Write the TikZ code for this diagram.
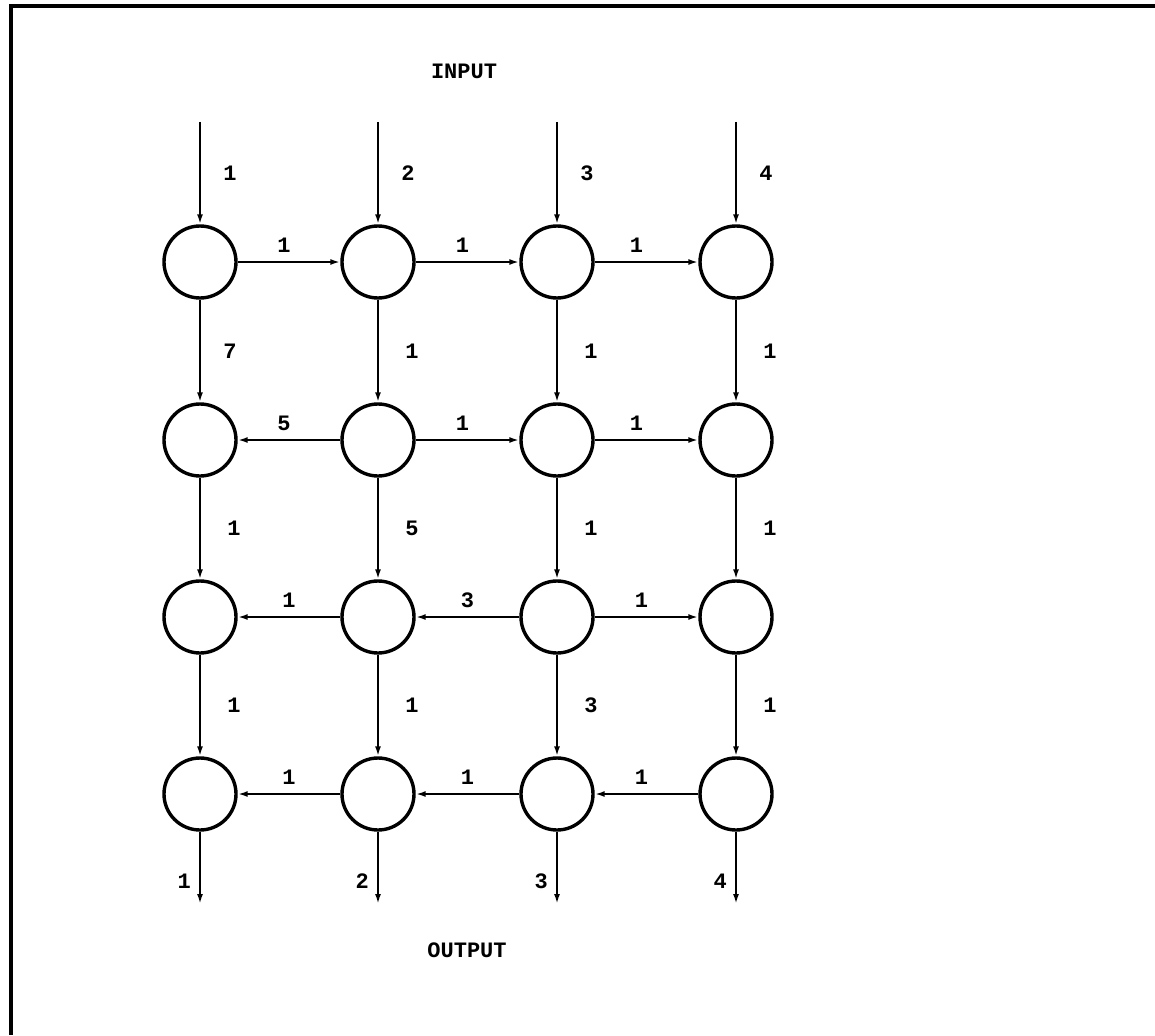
\documentclass[tikz,border=0pt]{standalone}
\usepackage{fontspec}
\setmonofont{Liberation Mono}
\usetikzlibrary{arrows.meta}
\begin{document}
\begin{tikzpicture}[x=1pt,y=-1pt,
  font=\fontsize{22}{26}\selectfont\ttfamily\bfseries,
  cell/.style={circle,draw,line width=3.4pt,minimum size=72pt,inner sep=0pt},
  flow/.style={line width=2.6pt,-{Latex[length=10pt,width=6pt]}},
  lab/.style={inner sep=2pt}]
\useasboundingbox (0,0) rectangle (1155,1035);
% frame (top and left sides)
\draw[line width=4pt] (1155,6) -- (11,6) -- (11,1035);
% titles
\node (tin) at (464,71) {INPUT};
\node (tout) at (467,950) {OUTPUT};
% cells
\foreach \r/\y in {1/262,2/440,3/617,4/794}{
  \foreach \c/\x in {1/200,2/378,3/557,4/736}{
    \node[cell] (n\r\c) at (\x,\y) {};
  }
}
% input / output coordinates
\foreach \c/\x in {1/200,2/378,3/557,4/736}{
  \coordinate (in\c) at (\x,122);
  \coordinate (out\c) at (\x,904);
}
% inputs and outputs
\foreach \c in {1,2,3,4}{
  \draw[flow] (in\c) -- node[lab,right=20pt] {\c} (n1\c);
  \draw[flow] (n4\c) -- node[lab,pos=0.68,left=6pt] {\c} (out\c);
}
% row 1 horizontals
\draw[flow] (n11) -- node[lab,above=6pt,xshift=-5pt] {1} (n12);
\draw[flow] (n12) -- node[lab,above=6pt,xshift=-5pt] {1} (n13);
\draw[flow] (n13) -- node[lab,above=6pt,xshift=-10pt] {1} (n14);
% row 1 -> row 2
\draw[flow] (n11) -- node[lab,right=20pt] {7} (n21);
\draw[flow] (n12) -- node[lab,right=24pt] {1} (n22);
\draw[flow] (n13) -- node[lab,right=24pt] {1} (n23);
\draw[flow] (n14) -- node[lab,right=24pt] {1} (n24);
% row 2 horizontals
\draw[flow] (n22) -- node[lab,above=6pt,xshift=-5pt] {5} (n21);
\draw[flow] (n22) -- node[lab,above=6pt,xshift=-5pt] {1} (n23);
\draw[flow] (n23) -- node[lab,above=6pt,xshift=-10pt] {1} (n24);
% row 2 -> row 3
\draw[flow] (n21) -- node[lab,right=24pt] {1} (n31);
\draw[flow] (n22) -- node[lab,right=24pt] {5} (n32);
\draw[flow] (n23) -- node[lab,right=24pt] {1} (n33);
\draw[flow] (n24) -- node[lab,right=24pt] {1} (n34);
% row 3 horizontals
\draw[flow] (n32) -- node[lab,above=6pt] {1} (n31);
\draw[flow] (n33) -- node[lab,above=6pt] {3} (n32);
\draw[flow] (n33) -- node[lab,above=6pt,xshift=-5pt] {1} (n34);
% row 3 -> row 4
\draw[flow] (n31) -- node[lab,right=24pt] {1} (n41);
\draw[flow] (n32) -- node[lab,right=24pt] {1} (n42);
\draw[flow] (n33) -- node[lab,right=24pt] {3} (n43);
\draw[flow] (n34) -- node[lab,right=24pt] {1} (n44);
% row 4 horizontals
\draw[flow] (n42) -- node[lab,above=6pt] {1} (n41);
\draw[flow] (n43) -- node[lab,above=6pt] {1} (n42);
\draw[flow] (n44) -- node[lab,above=6pt,xshift=-5pt] {1} (n43);
\end{tikzpicture}
\end{document}
